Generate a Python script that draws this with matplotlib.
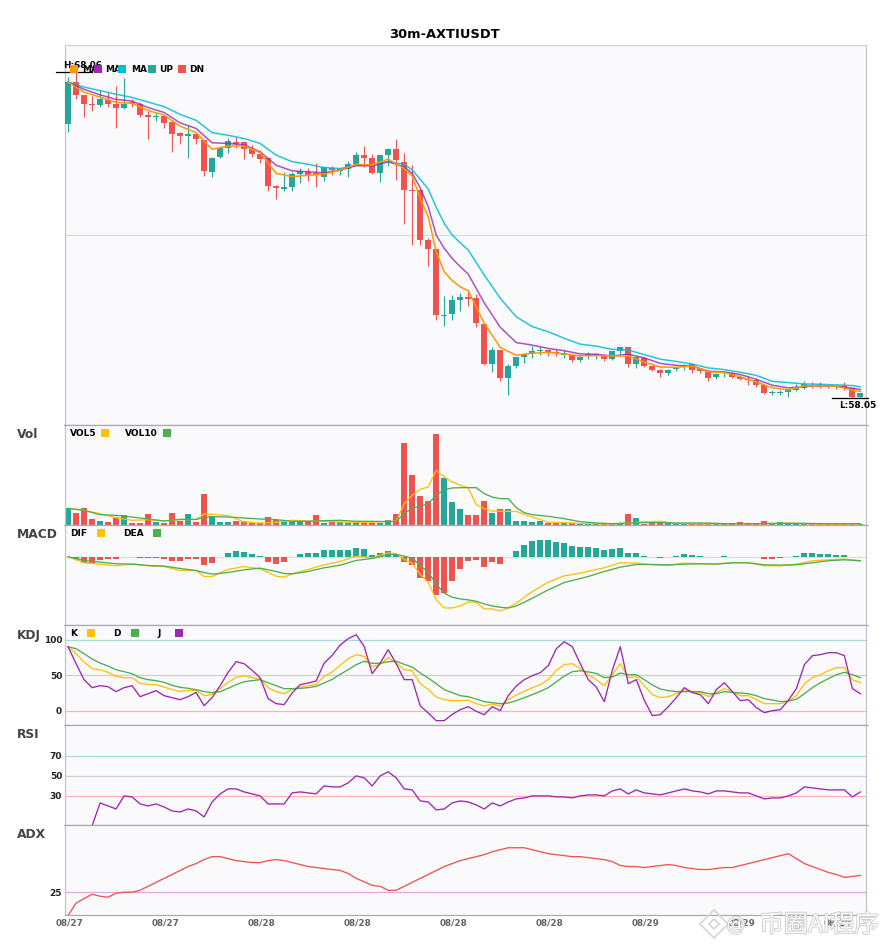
import matplotlib
matplotlib.use('Agg')
import matplotlib.pyplot as plt
import matplotlib.patheffects as pe
from matplotlib.patches import Rectangle
from matplotlib.lines import Line2D
from matplotlib.transforms import ScaledTranslation

W, H = 885, 950
TEAL = '#26a69a'
RED = '#ef5350'
ORANGE = '#ff9800'
PURPLE = '#9c27b0'
CYAN = '#00bcd4'
YELLOW = '#ffc107'
GREEN = '#4caf50'

# candles, one per 30m bar
opens = [66.46, 67.74, 67.34, 67.07, 67.04, 67.19, 67.07, 66.95, 67.13, 67.07,
         66.73, 66.68, 66.71, 66.52, 66.18, 66.10, 66.15, 65.96, 64.99, 65.45,
         65.72, 65.90, 65.90, 65.69, 65.53, 65.41, 64.55, 64.46, 64.53, 64.93,
         64.98, 64.94, 64.84, 65.10, 65.01, 65.08, 65.23, 65.50, 65.41, 64.95,
         65.50, 65.69, 65.29, 64.43, 64.43, 62.90, 62.62, 60.57, 60.63, 61.06,
         61.15, 61.12, 60.32, 59.09, 59.52, 58.66, 59.03, 59.31, 59.40, 59.49,
         59.52, 59.46, 59.37, 59.37, 59.22, 59.37, 59.37, 59.37, 59.25, 59.49,
         59.61, 59.09, 59.28, 59.03, 58.91, 58.82, 58.94, 59.00, 59.09, 58.94,
         58.88, 58.69, 58.77, 58.82, 58.69, 58.63, 58.60, 58.45, 58.21, 58.21,
         58.23, 58.30, 58.36, 58.45, 58.45, 58.42, 58.42, 58.42, 58.36, 58.08]
closes = [67.74, 67.35, 67.08, 67.04, 67.22, 67.08, 66.95, 67.07, 67.08, 66.74,
          66.68, 66.71, 66.49, 66.16, 66.10, 66.15, 66.00, 65.02, 65.41, 65.72,
          65.93, 65.85, 65.69, 65.54, 65.39, 64.56, 64.50, 64.52, 64.92, 65.01,
          64.89, 64.90, 65.13, 65.04, 65.08, 65.23, 65.50, 65.41, 64.95, 65.50,
          65.69, 65.35, 64.44, 64.40, 62.91, 62.62, 60.58, 60.60, 61.06, 61.15,
          61.09, 60.35, 59.09, 59.52, 58.66, 59.03, 59.31, 59.40, 59.49, 59.52,
          59.46, 59.42, 59.43, 59.22, 59.31, 59.40, 59.39, 59.25, 59.49, 59.61,
          59.09, 59.31, 59.03, 58.91, 58.82, 58.91, 58.97, 59.03, 58.91, 58.88,
          58.66, 58.79, 58.79, 58.69, 58.63, 58.61, 58.45, 58.20, 58.23, 58.23,
          58.30, 58.36, 58.48, 58.42, 58.40, 58.40, 58.40, 58.36, 58.08, 58.20]
highs = [67.89, 68.06, 67.34, 67.31, 67.49, 67.44, 67.62, 67.86, 67.21, 67.12,
         66.86, 66.80, 66.71, 66.52, 66.20, 66.42, 66.19, 65.98, 65.44, 65.75,
         66.02, 66.06, 65.93, 65.81, 65.66, 65.41, 64.58, 64.98, 64.98, 65.10,
         65.10, 65.26, 65.13, 65.17, 65.11, 65.32, 65.59, 65.78, 65.53, 65.50,
         65.72, 65.99, 65.56, 65.20, 64.43, 62.96, 62.62, 61.18, 61.21, 61.27,
         61.36, 61.24, 60.32, 59.61, 59.52, 59.09, 59.31, 59.43, 59.64, 59.61,
         59.55, 59.55, 59.52, 59.40, 59.37, 59.46, 59.42, 59.40, 59.49, 59.61,
         59.61, 59.34, 59.31, 59.06, 58.94, 58.94, 59.01, 59.09, 59.11, 58.97,
         58.91, 58.82, 58.85, 58.85, 58.76, 58.72, 58.66, 58.45, 58.30, 58.30,
         58.30, 58.48, 58.57, 58.54, 58.54, 58.45, 58.45, 58.54, 58.36, 58.20]
lows = [66.22, 67.23, 66.68, 66.86, 66.99, 66.97, 66.34, 66.92, 66.99, 66.68,
        66.00, 66.56, 66.34, 65.60, 65.85, 65.42, 65.85, 64.87, 64.84, 65.41,
        65.57, 65.72, 65.39, 65.45, 65.27, 64.41, 64.16, 64.41, 64.41, 64.65,
        64.71, 64.53, 64.71, 64.90, 64.90, 64.84, 65.19, 65.13, 64.92, 64.68,
        65.18, 64.74, 63.39, 62.74, 62.74, 62.10, 60.44, 60.26, 60.44, 60.72,
        60.87, 60.23, 59.06, 58.85, 58.57, 58.14, 58.97, 59.12, 59.28, 59.37,
        59.34, 59.34, 59.28, 59.15, 59.15, 59.25, 59.25, 59.18, 59.22, 59.40,
        59.00, 58.97, 59.00, 58.88, 58.69, 58.76, 58.88, 58.91, 58.82, 58.82,
        58.57, 58.63, 58.69, 58.66, 58.60, 58.45, 58.39, 58.17, 58.14, 58.14,
        58.08, 58.26, 58.33, 58.36, 58.36, 58.36, 58.33, 58.30, 58.05, 58.05]

# moving averages, read at these bars only
ma_idx = (list(range(0, 44, 2)) + list(range(43, 51)) + list(range(52, 66, 2))
          + list(range(66, 100, 2)) + [99])
ma_idx = sorted(set(ma_idx))
ma_fast = [67.74, 67.43, 67.28, 67.12, 67.09, 66.87, 66.73, 66.39, 66.19, 65.68,
           65.78, 65.78, 65.58, 64.94, 64.84, 64.88, 64.92, 65.04, 65.22, 65.20,
           65.38, 65.09, 64.86, 64.17, 63.61, 62.54, 61.92, 61.65, 61.46, 61.34,
           60.34, 59.60, 59.36, 59.42, 59.45, 59.40, 59.34, 59.35, 59.34, 59.34,
           59.15, 59.00, 58.99, 59.03, 58.85, 58.83, 58.70, 58.54, 58.36, 58.30,
           58.42, 58.42, 58.41, 58.29, 58.25]
ma_mid = [67.74, 67.52, 67.35, 67.21, 67.16, 66.96, 66.81, 66.49, 66.32, 65.88,
          65.86, 65.82, 65.60, 65.19, 65.02, 64.99, 64.96, 65.04, 65.18, 65.17,
          65.30, 65.14, 64.94, 64.50, 63.92, 63.05, 62.64, 62.33, 62.08, 61.85,
          60.97, 60.22, 59.75, 59.67, 59.57, 59.50, 59.40, 59.39, 59.34, 59.39,
          59.28, 59.11, 59.05, 59.03, 58.87, 58.85, 58.77, 58.62, 58.44, 58.36,
          58.40, 58.43, 58.41, 58.35, 58.31]
ma_slow = [67.74, 67.59, 67.48, 67.37, 67.27, 67.13, 66.99, 66.75, 66.57, 66.19,
           66.11, 66.01, 65.86, 65.50, 65.30, 65.22, 65.12, 65.09, 65.18, 65.20,
           65.30, 65.22, 65.05, 64.76, 64.46, 63.90, 63.41, 63.05, 62.81, 62.59,
           61.82, 61.11, 60.54, 60.24, 60.08, 59.88, 59.70, 59.64, 59.54, 59.52,
           59.38, 59.24, 59.17, 59.09, 58.97, 58.92, 58.84, 58.74, 58.56, 58.52,
           58.48, 58.47, 58.45, 58.43, 58.39]

volume = [50, 35, 50, 17, 11, 8, 21, 29, 5, 5, 32, 8, 5, 35, 11, 32, 8, 92, 26, 8,
          8, 11, 11, 5, 5, 23, 14, 8, 9, 9, 9, 29, 5, 8, 8, 5, 5, 5, 5, 5,
          14, 32, 245, 149, 86, 71, 272, 140, 68, 47, 29, 29, 71, 35, 47, 47, 11, 11, 8, 11,
          5, 5, 5, 5, 3, 3, 3, 3, 3, 3, 32, 20, 3, 5, 9, 5, 3, 3, 3, 3,
          3, 3, 3, 3, 8, 3, 3, 11, 3, 8, 3, 2, 2, 2, 2, 2, 2, 2, 2, 2]
vol_idx = sorted(set(list(range(0, 18, 2)) + [17, 18] + list(range(20, 42, 2)) + list(range(41, 59))
                     + [60, 62, 64] + list(range(66, 100, 2)) + [99]))
vol5 = [50, 44, 34, 22, 14, 16, 12, 16, 16, 33, 32, 28, 9, 6, 8, 14, 12, 11, 9, 8, 8, 11,
        12, 64, 89, 107, 114, 164, 144, 129, 119, 112, 61, 49, 42, 41, 41, 41, 32, 24,
        8, 7, 5, 4, 3, 6, 10, 11, 5, 4, 4, 4, 4, 4, 4, 6, 4, 3, 3, 3, 3]
vol10 = [50, 44, 31, 29, 24, 18, 12, 17, 17, 22, 25, 24, 21, 18, 16, 11, 11, 13, 14, 11, 11, 10,
         11, 34, 51, 56, 64, 89, 106, 111, 112, 112, 112, 94, 84, 79, 79, 52, 37, 31,
         26, 19, 10, 6, 4, 6, 7, 7, 6, 6, 6, 4, 4, 4, 5, 5, 5, 4, 4, 4, 4]

macd_hist = [0, -7, -18, -20, -11, -8, -8, -2, 0, -5, -5, -5, -8, -14, -14, -8, -8, -26, -20, -2,
             12, 18, 15, 9, 3, -16, -23, -16, -2, 9, 12, 12, 21, 21, 21, 21, 27, 24, 6, 12,
             18, 8, -16, -25, -64, -73, -115, -109, -73, -37, -14, -10, -31, -16, -22, -2, 18, 36, 48, 51,
             51, 45, 42, 33, 30, 30, 27, 21, 24, 27, 12, 12, 3, -1, -5, -2, 3, 9, 6, 3,
             -2, 0, 3, 0, 0, 0, -1, -8, -8, -5, 0, 3, 12, 12, 9, 9, 6, 6, -1, -1]
macd_idx = sorted(set(list(range(0, 18, 2)) + [17, 18] + [20, 22, 24, 26, 27, 28] + list(range(30, 42, 2))
                      + list(range(41, 59)) + [60, 62, 64] + list(range(65, 100, 2))))
dif = [0, -18, -22, -27, -21, -27, -29, -41, -41, -59, -59, -38, -29, -36, -58, -61, -51,
       -38, -24, -14, 1, -3, 12, 9, -8, -19, -53, -76, -128, -153, -153, -147, -135, -136,
       -156, -156, -162, -152, -139, -121, -104, -76, -57, -49, -43, -33, -18, -19, -24, -26,
       -19, -21, -21, -18, -18, -27, -27, -22, -12, -9, -7, -12]
dea = [0, -11, -16, -21, -22, -26, -28, -35, -41, -47, -52, -47, -39, -34, -44, -50, -51,
       -44, -33, -25, -11, -5, 6, 7, 2, -4, -26, -46, -81, -109, -121, -126, -129, -133,
       -141, -147, -151, -153, -147, -136, -124, -99, -77, -65, -59, -44, -31, -23, -23, -24,
       -22, -21, -22, -18, -18, -24, -25, -24, -18, -12, -9, -12]

kdj_k = [90.1, 80.3, 68.5, 59.2, 57.7, 54, 48.4, 46.5, 46.5, 38.5, 37.1, 36.6, 33.3, 29.6, 27.2,
         28.2, 28.6, 21.1, 23, 31, 39.9, 46.9, 49.3, 46.5, 44.6, 32.4, 26.8, 23.9, 30, 33.3,
         35.2, 37.1, 48.4, 54.5, 63.9, 73.2, 78.9, 76.5, 61.5, 65.3, 74.6, 67.1, 57.7, 56.3, 38,
         30, 19.2, 15.5, 14.1, 14.1, 14.6, 9.9, 6.6, 9.4, 6.6, 15.5, 22.1, 27.2, 32.4, 36.6,
         43.7, 56.8, 64.8, 66.2, 59.2, 50.7, 43.7, 35.2, 50.7, 66.2, 46.5, 47.9, 35.2, 22.5, 18.3,
         19.7, 23.9, 29.6, 26.8, 25.4, 19.7, 25.4, 31, 26.8, 21.1, 21.1, 15.5, 9.9, 9.9, 9.9,
         13.1, 21.1, 38, 46.5, 50.7, 56.3, 60.6, 60.6, 43.7, 39.4]
kdj_d = [90.1, 87.3, 80.3, 72.8, 67.1, 62.9, 57.7, 54.9, 52.1, 46.5, 43.7, 42.3, 39.9, 35.7, 32.9,
         31.5, 29.6, 26.8, 25.4, 26.8, 31.5, 36.6, 40.8, 42.3, 43.7, 39.4, 35.2, 31, 31, 31.5,
         32.4, 34.3, 39, 44.1, 51.2, 57.7, 64.8, 69.5, 66.7, 66.7, 69, 69.5, 65.3, 61.5, 53.1,
         46, 38, 29.6, 25.4, 21.1, 19.7, 16.4, 12.7, 11.3, 9.9, 10.8, 14.1, 18.3, 22.5, 27.2,
         32.4, 40.4, 48.8, 54.9, 56.3, 54.5, 52.6, 46.5, 47.4, 53.1, 50.7, 50.7, 43.7, 36.2, 30.5,
         28.2, 26.8, 26.8, 26.8, 26.8, 23.9, 23.9, 26.8, 25.8, 24.9, 23.9, 21.1, 16.9, 15, 12.7,
         13.6, 16, 23.9, 32.4, 39.4, 45.1, 50.7, 54, 50.7, 46.5]
kdj_j = [90.1, 66.2, 43.7, 32.4, 35.2, 33.8, 26.8, 32.4, 35.2, 19.7, 23.9, 28.2, 21.1, 18.3, 15.5,
         19.7, 25.8, 7, 18.3, 35.2, 54, 69, 66.2, 56.8, 46.5, 16.9, 9.9, 8.5, 24.9, 36.6,
         39, 41.8, 67.1, 77.9, 92.5, 101.4, 107, 90.6, 52.1, 67.1, 85.9, 66.2, 43.7, 43.7, 7,
         -3.3, -14.1, -14.1, -5.2, 1.4, 5.6, -0.9, -5.6, 5.6, 0, 21.1, 34.7, 43.7, 49.3, 53.5,
         63.4, 87.3, 97.2, 90.1, 66.2, 43.7, 33.3, 12.7, 56.8, 90.1, 38, 43.7, 14.6, -7, -5.6,
         5.6, 18.3, 32.4, 25.4, 22.5, 9.9, 29.6, 39.4, 26.8, 14.1, 15.5, 4.2, -2.8, 0, 1.4,
         14.6, 31, 64.8, 77.5, 78.9, 81.7, 81.7, 77.5, 31, 23.9]

rsi = [0, 0, 0, 0, 23, 20, 17, 30, 29, 22, 20, 22, 19, 15, 14, 17, 15, 9, 24, 32,
       37, 37, 34, 32, 30, 22, 22, 22, 33, 34, 33, 32, 40, 39, 39, 43, 50, 48, 40, 50,
       54, 48, 37, 36, 25, 24, 16, 17, 23, 25, 24, 21, 17, 23, 20, 24, 27, 28, 30, 30,
       30, 29, 29, 28, 30, 31, 31, 30, 35, 37, 32, 36, 33, 32, 31, 33, 35, 37, 35, 34,
       32, 35, 35, 34, 33, 33, 30, 27, 28, 28, 30, 33, 39, 38, 37, 36, 36, 36, 29, 34]
adx = [13.2, 19.5, 21.8, 24, 23, 22.5, 24.5, 25, 25, 26, 28, 30, 32, 34, 36, 38, 39.5, 41.5, 43, 43,
       42, 41, 40.5, 40, 40, 41, 41.5, 41, 40, 39, 38, 37.5, 37, 36.5, 36, 34.5, 32, 30.3, 28.5, 28,
       26, 26, 28, 30, 32, 34, 36, 38, 39.5, 41, 42, 43, 44, 45.5, 46.5, 47.5, 47.5, 47.5, 46.5, 45.5,
       44.5, 44, 43.5, 43, 43, 42.5, 42, 41.5, 40.5, 38.5, 38, 38, 37.5, 38, 38.5, 39, 38.5, 37.5, 37, 36.5,
       36.5, 37, 37.5, 37.5, 38.5, 39.5, 40.5, 41.5, 42.5, 43.5, 44.5, 42, 39.5, 38, 36.5, 35, 34, 32.5, 33, 33.5]

tick_idx = [0, 12, 24, 36, 48, 60, 72, 84, 96]
tick_labels = ['08/27', '08/27', '08/28', '08/28', '08/28', '08/28', '08/29', '08/29', '08/29']

plt.rcParams['font.family'] = ['DejaVu Sans']
fig = plt.figure(figsize=(W / 100, H / 100), dpi=100, facecolor='white')


def make_panel(top, bottom, ylim, share=None):
    ax = fig.add_axes([65 / W, 1 - bottom / H, (866 - 65) / W, (bottom - top) / H],
                      facecolor='#fafafd', sharex=share)
    ax.set_xlim(-0.38, 99.7)
    ax.set_ylim(*ylim)
    for side in ax.spines:
        ax.spines[side].set_color('#c4c4cc')
        ax.spines[side].set_linewidth(0.9)
    ax.spines['top'].set_color('#aaaab0')
    ax.spines['bottom'].set_color('#aaaab0')
    ax.tick_params(length=0, labelbottom=False, labelleft=False)
    return ax


def panel_ticks(ax, vals):
    ax.set_yticks(vals)
    ax.set_yticklabels([str(v) for v in vals], fontsize=6.5, fontweight='bold', color='#222222')
    ax.tick_params(axis='y', length=0, pad=2, labelleft=True)


def fig_label(x, y, s, size=6.5, color='black', ha='left'):
    fig.text(x / W, 1 - y / H, s, fontsize=size, fontweight='bold', color=color, ha=ha, va='center')


def fig_square(x, y, color):
    fig.add_artist(Rectangle((x / W, 1 - (y + 8) / H), 8 / W, 8 / H, transform=fig.transFigure,
                             facecolor=color, edgecolor='none', zorder=5))


xs = list(range(len(opens)))
bar_colors = [TEAL if c >= o else RED for o, c in zip(opens, closes)]

# main candles
ax_main = make_panel(45, 425, (57.22, 68.88))
ax_main.spines['top'].set_color('#d0d0d6')
ax_main.axhline(63.05, color='#dddddd', lw=0.9, zorder=1)
ax_main.vlines(xs, lows, highs, colors=bar_colors, lw=0.8, zorder=2)
ax_main.bar(xs, [abs(c - o) for o, c in zip(opens, closes)], bottom=[min(o, c) for o, c in zip(opens, closes)],
            width=0.75, color=bar_colors, linewidth=0, zorder=3)
ax_main.plot(ma_idx, ma_slow, color=CYAN, lw=1.1, alpha=0.85, zorder=4)
ax_main.plot(ma_idx, ma_mid, color=PURPLE, lw=1.1, alpha=0.8, zorder=5)
ax_main.plot(ma_idx, ma_fast, color=ORANGE, lw=1.1, zorder=6)

ax_main.plot([-1.56, 2.94], [68.06, 68.06], color='black', lw=0.9, clip_on=False, zorder=7)
ax_main.text(-0.6, 68.1, 'H:68.06', fontsize=6.4, fontweight='bold', ha='left', va='bottom', clip_on=False, zorder=7)
ax_main.plot([95.4, 99.9], [58.05, 58.05], color='black', lw=0.9, clip_on=False, zorder=7)
ax_main.text(96.35, 57.95, 'L:58.05', fontsize=6.4, fontweight='bold', ha='left', va='top', clip_on=False, zorder=7)

fig.text(444 / W, 1 - 34 / H, '30m-AXTIUSDT', fontsize=9.4, fontweight='bold', ha='center', va='center')
fig_label(82, 69, 'MA')
fig_label(105, 69, 'MA')
fig_label(131, 69, 'MA')
fig_label(159, 69, 'UP')
fig_label(189, 69, 'DN')
for sq_x, sq_col in [(70, ORANGE), (94, PURPLE), (118, CYAN), (148, TEAL), (178, RED)]:
    fig_square(sq_x, 65, sq_col)

# volume
ax_vol = make_panel(425, 525, (0, 300), share=ax_main)
ax_vol.bar(xs, volume, width=0.75, color=bar_colors, linewidth=0, zorder=2)
ax_vol.plot(vol_idx, vol5, color=YELLOW, lw=0.95, zorder=3)
ax_vol.plot(vol_idx, vol10, color=GREEN, lw=0.95, zorder=4)
fig_label(17, 435, 'Vol', size=8.8, color='#444444')
fig_label(70, 433, 'VOL5')
fig_label(125, 433, 'VOL10')
fig_square(101, 429, YELLOW)
fig_square(163, 429, GREEN)

# macd
ax_macd = make_panel(525, 625, (-204, 95), share=ax_main)
ax_macd.axhline(0, color='#dddddd', lw=0.9, zorder=1)
ax_macd.bar(xs, macd_hist, width=0.75, color=[TEAL if v > 0 else RED for v in macd_hist], linewidth=0, zorder=2)
ax_macd.plot(macd_idx, dif, color=YELLOW, lw=0.95, zorder=3)
ax_macd.plot(macd_idx, dea, color=GREEN, lw=0.95, zorder=4)
fig_label(17, 535, 'MACD', size=8.8, color='#444444')
fig_label(70, 533, 'DIF')
fig_label(123, 533, 'DEA')
fig_square(97, 529, YELLOW)
fig_square(153, 529, GREEN)

# kdj
ax_kdj = make_panel(625, 725, (-20.2, 120.7), share=ax_main)
ax_kdj.axhline(100, color='#a8dcd8', lw=0.9, zorder=1)
ax_kdj.axhline(50, color='#d0d0d0', lw=0.9, zorder=1)
ax_kdj.axhline(0, color='#ffb4b4', lw=0.9, zorder=1)
ax_kdj.plot(xs, kdj_k, color=YELLOW, lw=0.95, zorder=3)
ax_kdj.plot(xs, kdj_d, color=GREEN, lw=0.95, zorder=3)
ax_kdj.plot(xs, kdj_j, color=PURPLE, lw=0.95, zorder=4)
panel_ticks(ax_kdj, [0, 50, 100])
fig_label(17, 635, 'KDJ', size=8.8, color='#444444')
fig_label(70, 633, 'K')
fig_label(113, 633, 'D')
fig_label(157, 633, 'J')
fig_square(87, 629, YELLOW)
fig_square(131, 629, GREEN)
fig_square(175, 629, PURPLE)

# rsi
ax_rsi = make_panel(725, 825, (1, 100.7), share=ax_main)
ax_rsi.axhline(70, color='#a8dcd8', lw=0.9, zorder=1)
ax_rsi.axhline(50, color='#d0d0d0', lw=0.9, zorder=1)
ax_rsi.axhline(30, color='#ffb4b4', lw=0.9, zorder=1)
ax_rsi.plot(xs, rsi, color=PURPLE, lw=0.95, zorder=3)
panel_ticks(ax_rsi, [30, 50, 70])
fig_label(17, 735, 'RSI', size=8.8, color='#444444')

# adx
ax_adx = make_panel(825, 915, (13.5, 59), share=ax_main)
ax_adx.axhline(25, color='#e0a8e8', lw=0.9, zorder=1)
ax_adx.plot(xs, adx, color=RED, lw=0.95, zorder=3)
panel_ticks(ax_adx, [25])
ax_adx.set_xticks(tick_idx)
ax_adx.set_xticklabels(tick_labels, fontsize=6.4, fontweight='bold', color='#666666')
ax_adx.tick_params(axis='x', length=0, pad=2.5, labelbottom=True)
# labels sit a little right of their bar in the original
shift = ScaledTranslation(1.5 / 100, 0, fig.dpi_scale_trans)
for lab in ax_adx.get_xticklabels():
    lab.set_transform(lab.get_transform() + shift)
fig_label(17, 835, 'ADX', size=8.8, color='#444444')

# small notches where the panels meet
for notch_y in [425, 525, 625, 725, 825]:
    for x0, x1 in [(63.5, 65), (866, 868)]:
        fig.add_artist(Line2D([x0 / W, x1 / W], [1 - notch_y / H] * 2, color='#aaaab0', lw=0.8,
                              transform=fig.transFigure))

# watermark
stroke = [pe.withStroke(linewidth=1.1, foreground='#c2c2c2')]
fig.text(819 / W, 1 - 925 / H, '币圈AI程序', fontsize=17.5, color='white', alpha=0.9, ha='center', va='center',
         family=['Noto Sans CJK SC', 'DejaVu Sans'], path_effects=stroke, zorder=10)
fig.text(736 / W, 1 - 925 / H, '@', fontsize=14, color='white', alpha=0.9, ha='center', va='center',
         path_effects=stroke, zorder=10)
for ms in [14, 5]:
    fig.add_artist(Line2D([713.5 / W], [1 - 924 / H], marker='D', markersize=ms, markerfacecolor='none',
                          markeredgecolor='#d8d8d8', markeredgewidth=1.3, transform=fig.transFigure, zorder=10))

fig.savefig('out.png', dpi=100)
